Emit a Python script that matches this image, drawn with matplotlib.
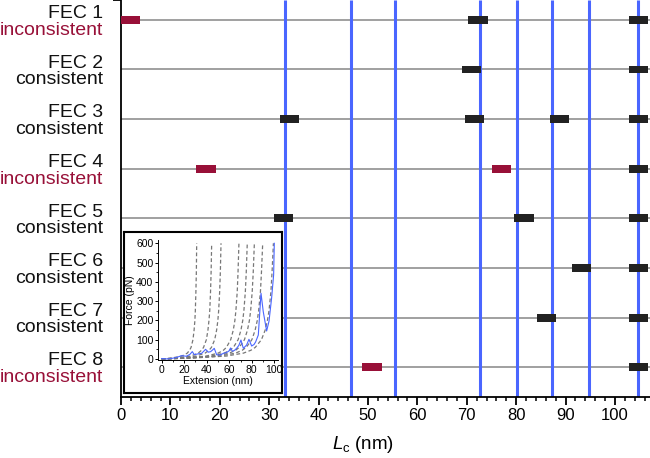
import matplotlib
matplotlib.use('Agg')
import matplotlib.pyplot as plt
from matplotlib.ticker import MultipleLocator

plt.rcParams['font.family'] = ['Liberation Sans', 'DejaVu Sans']
plt.rcParams['mathtext.fontset'] = 'custom'
plt.rcParams['mathtext.rm'] = 'Liberation Sans'
plt.rcParams['mathtext.it'] = 'Liberation Sans:italic'

# FEC rows and their classification
fec_names = ['FEC 1', 'FEC 2', 'FEC 3', 'FEC 4', 'FEC 5', 'FEC 6', 'FEC 7', 'FEC 8']
fec_status = ['inconsistent', 'consistent', 'consistent', 'inconsistent',
              'consistent', 'consistent', 'consistent', 'inconsistent']

# reference contour lengths (blue lines), nm
ref_lc = [33.3, 46.5, 55.4, 72.7, 80.2, 87.3, 94.7, 104.6]

# detected rupture contour lengths per FEC (row index, Lc, flagged)
box_row = [0, 0, 0, 1, 1, 2, 2, 2, 2, 3, 3, 3, 4, 4, 4, 5, 5, 6, 6, 7, 7]
box_lc = [1.8, 72.3, 104.8, 71.0, 104.8, 34.1, 71.5, 88.8, 104.8,
          17.2, 77.0, 104.8, 32.9, 81.6, 104.8, 93.3, 104.8, 86.2, 104.8,
          50.8, 104.8]
box_bad = [1, 0, 0, 0, 0, 0, 0, 0, 0, 1, 1, 0, 0, 0, 0, 0, 0, 0, 0, 1, 0]

# inset: example force-extension curve (nm, pN)
fec_ext = [0, 5, 10, 13.3, 17.7, 22, 25.1, 27.2, 29, 32, 35.5, 39, 41.4, 43.5,
           45.3, 46.7, 48.8, 52, 54.7, 57.5, 59.7, 61.2, 62.7, 64.5, 66.5, 68.5,
           70.4, 72.5, 75.4, 77.5, 79.9, 82, 83.4, 85.8, 88.2, 90.2, 93.2,
           95.3, 97.6, 99.4, 100]
fec_force = [2, 0, 4, 8, 17, 14, 24, 38, 22, 26, 29, 50, 35, 38, 47, 55, 22, 20,
             29, 33, 41, 57, 40, 44, 55, 70, 98, 55, 72, 102, 67, 75, 88, 124,
             341, 245, 145, 196, 315, 436, 600]

# inset: worm-like-chain guide curves, force levels and extension per curve
wlc_force = [0, 2, 5, 15, 30, 45, 60, 100, 150, 200, 250, 350, 450, 600]
wlc_ext = [
    [0, 4.0, 9.0, 18.0, 22.7, 24.8, 26.1, 27.8, 28.8, 29.5, 29.9, 30.4, 30.8, 31.1],
    [0, 5.7, 12.8, 25.7, 32.4, 35.4, 37.2, 39.7, 41.1, 42.0, 42.7, 43.4, 43.9, 44.4],
    [0, 6.8, 15.2, 30.5, 38.5, 42.1, 44.2, 47.1, 48.8, 49.9, 50.6, 51.5, 52.1, 52.7],
    [0, 8.8, 19.8, 39.6, 50.1, 54.8, 57.5, 61.3, 63.6, 65.0, 65.9, 67.1, 67.8, 68.6],
    [0, 9.8, 22.0, 43.9, 55.5, 60.6, 63.7, 67.9, 70.4, 72.0, 73.0, 74.3, 75.1, 76.0],
    [0, 10.6, 23.8, 47.5, 60.1, 65.6, 68.9, 73.5, 76.2, 77.9, 79.0, 80.4, 81.3, 82.3],
    [0, 11.5, 25.9, 51.8, 65.5, 71.5, 75.1, 80.1, 83.0, 84.9, 86.1, 87.7, 88.6, 89.7],
    [0, 12.7, 28.6, 57.3, 72.5, 79.2, 83.1, 88.6, 91.9, 93.9, 95.3, 97.0, 98.0, 99.2],
]

red = '#981038'
blue = '#4a66ff'

fig = plt.figure(figsize=(6.5, 4.58), dpi=100)
ax = fig.add_axes([0.1862, 0.1332, 0.8138, 0.8668])

rows = list(range(len(fec_names)))
ax.hlines(rows, 0, 107.1, color='#a0a0a0', lw=1.4, zorder=1)
ax.vlines(ref_lc, -0.4, 7.6, color=blue, lw=2.2, zorder=2)

colors = [red if b else '#222222' for b in box_bad]
ax.barh(box_row, [3.9] * len(box_lc), height=0.16,
        left=[c - 1.95 for c in box_lc], color=colors, zorder=3)

tr = ax.get_yaxis_transform()
for i, (name, st) in enumerate(zip(fec_names, fec_status)):
    ax.text(-0.034, i - 0.035, name, transform=tr, ha='right', va='baseline',
            fontsize=14, color='#111111')
    ax.text(-0.034, i + 0.30, st, transform=tr, ha='right', va='baseline',
            fontsize=14, color=red if st == 'inconsistent' else '#111111')

ax.set_xlim(0, 107.1)
ax.set_ylim(7.6, -0.4)
ax.set_yticks([-0.4])
ax.set_yticklabels([''])
ax.xaxis.set_major_locator(MultipleLocator(10))
ax.xaxis.set_minor_locator(MultipleLocator(2))
ax.tick_params(axis='x', which='major', length=6, width=1.3, labelsize=12, pad=2)
ax.tick_params(axis='x', which='minor', length=3, width=1.1)
ax.tick_params(axis='y', length=6, width=1.3)
for s in ['top', 'right']:
    ax.spines[s].set_visible(False)
for s in ['left', 'bottom']:
    ax.spines[s].set_linewidth(1.3)
ax.set_xlabel(r'$L_\mathrm{c}$ (nm)', fontsize=13.5)
ax.xaxis.set_label_coords(0.458, -0.093)

# inset frame and axes
frame = fig.add_axes([0.19, 0.1419, 0.2438, 0.3515], zorder=2)
frame.set_xticks([])
frame.set_yticks([])
for s in frame.spines.values():
    s.set_linewidth(1.5)

ins = fig.add_axes([0.2435, 0.2129, 0.1837, 0.2622], zorder=3)
ins.patch.set_alpha(0)
for xs in wlc_ext:
    ins.plot(xs, wlc_force, color='#777777', lw=0.9, dashes=(3, 2))
ins.plot(fec_ext, fec_force, color=blue, lw=0.8)
ins.set_xlim(-3, 103)
ins.set_ylim(-8, 615)
ins.xaxis.set_major_locator(MultipleLocator(20))
ins.xaxis.set_minor_locator(MultipleLocator(10))
ins.yaxis.set_major_locator(MultipleLocator(100))
ins.yaxis.set_minor_locator(MultipleLocator(50))
ins.tick_params(which='major', length=2.5, width=0.7, labelsize=7.5, pad=1)
ins.tick_params(which='minor', length=1.5, width=0.6)
for s in ['top', 'right']:
    ins.spines[s].set_visible(False)
for s in ['left', 'bottom']:
    ins.spines[s].set_linewidth(0.7)
ins.set_xlabel('Extension (nm)', fontsize=7.5, labelpad=0.5)
ins.set_ylabel('Force (pN)', fontsize=7.5, labelpad=1)

fig.savefig('out.png', dpi=100)
